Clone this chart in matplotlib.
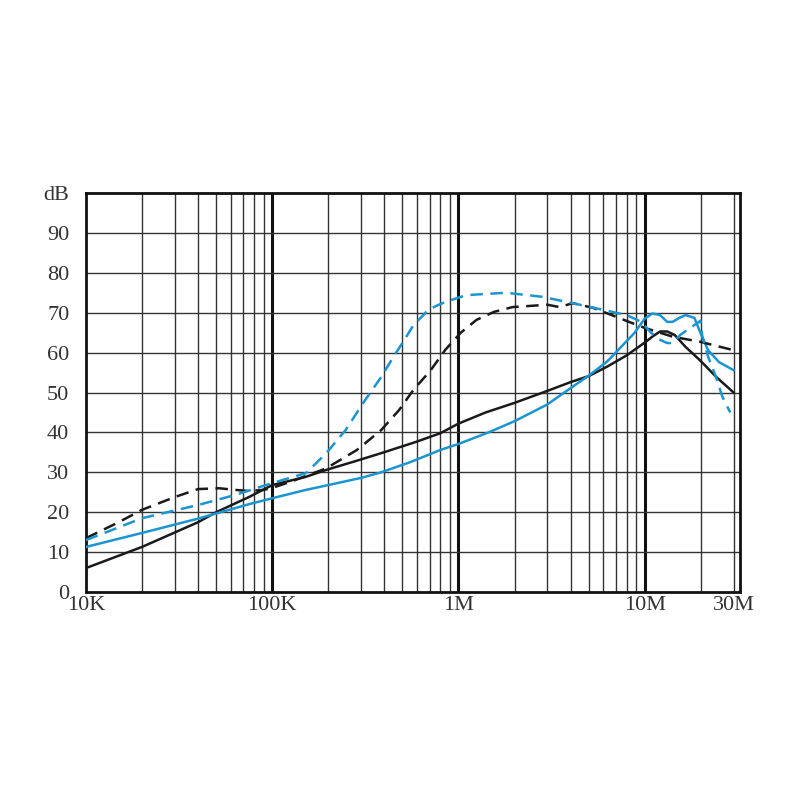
import numpy as np
import matplotlib
matplotlib.use("Agg")
import matplotlib.pyplot as plt

# values (frequency in Hz, level in dB)
black_solid_f = [1e4, 2e4, 4e4, 5e4, 7.5e4, 1e5, 1.5e5, 1.95e5, 2.8e5, 3.85e5, 5.9e5,
                 8e5, 1e6, 1.4e6, 2e6, 3e6, 4e6, 5e6, 6.3e6, 8e6, 1e7, 1.1e7, 1.21e7,
                 1.32e7, 1.45e7, 1.66e7, 1.99e7, 2.41e7, 3e7]
black_solid_db = [6, 11.3, 17.5, 20, 23.8, 26.8, 28.8, 30.6, 32.8, 34.8, 37.6,
                  39.8, 42.2, 45, 47.4, 50.4, 52.6, 54.1, 56.5, 59.3, 62.5, 64, 65.3,
                  65.3, 64.4, 61.4, 58, 54, 50]

blue_solid_f = [1e4, 2e4, 4e4, 7.5e4, 1e5, 1.52e5, 2e5, 3e5, 3.85e5, 5.55e5, 8e5, 1e6,
                1.45e6, 2e6, 3e6, 4e6, 5e6, 6.3e6, 7.5e6, 8.8e6, 1e7, 1.1e7, 1.21e7,
                1.32e7, 1.41e7, 1.55e7, 1.66e7, 1.85e7, 1.99e7, 2.19e7, 2.51e7, 3e7]
blue_solid_db = [11.3, 14.8, 18.4, 22, 23.5, 25.6, 26.8, 28.6, 30, 32.6, 35.6, 37.1,
                 40, 42.8, 47, 51.1, 54.2, 57.8, 61.5, 64.9, 68.5, 69.8, 69.4,
                 67.7, 67.7, 68.8, 69.4, 68.7, 65, 60.6, 57.6, 55.6]

black_dash_f = [1e4, 1.5e4, 2e4, 3e4, 4e4, 5.2e4, 6.3e4, 7.5e4, 9e4, 1e5, 1.25e5,
                1.95e5, 2.85e5, 3.85e5, 4.8e5, 5.72e5, 7.1e5, 8.5e5, 1.03e6, 1.25e6,
                1.55e6, 1.95e6, 3e6, 3.5e6, 4.1e6, 5.3e6, 7e6, 9e6, 1e7, 1.41e7,
                1.99e7, 3e7]
black_dash_db = [13.5, 17.5, 20.6, 23.8, 25.8, 26, 25.6, 25.3, 25.6, 26.1, 27.6,
                 31, 35.6, 40.6, 45.6, 50.6, 55.6, 60.7, 65, 68.2,
                 70.2, 71.4, 72, 71.4, 72.4, 71.2, 69, 67, 66.2, 64,
                 62.7, 60.6]

blue_dash_f = [1e4, 2e4, 4e4, 6.3e4, 1e5, 1.52e5, 1.95e5, 2.48e5, 3.08e5, 3.85e5,
               4.47e5, 5e5, 5.72e5, 6.72e5, 7.5e5, 8.5e5, 1.1e6, 1.8e6, 2.8e6, 4.1e6,
               6e6, 8e6, 9.6e6, 1.08e7, 1.21e7, 1.32e7, 1.41e7, 1.55e7, 1.73e7, 1.96e7,
               1.99e7, 2.04e7, 2.19e7, 2.41e7, 2.61e7, 2.88e7]
blue_dash_db = [13, 18.5, 21.8, 24.3, 27.3, 29.8, 34.8, 40.6, 47.4, 53.9,
                58.9, 62.4, 66.8, 70.2, 71.6, 72.7, 74.4, 75, 74, 72.4,
                70.7, 69.4, 67.7, 65, 63.2, 62.4, 62.4, 64.4, 66, 67.7,
                68, 64, 59, 54, 49, 45]

x_ticks = [1e4, 1e5, 1e6, 1e7, 3e7]
x_labels = ["10K", "100K", "1M", "10M", "30M"]
y_ticks = [0, 10, 20, 30, 40, 50, 60, 70, 80, 90, 100]
y_labels = ["0", "10", "20", "30", "40", "50", "60", "70", "80", "90", "dB"]

BLUE = "#1b95d2"
INK = "#1a1a1a"

plt.rcParams["font.family"] = ["Liberation Serif", "DejaVu Serif"]

fig = plt.figure(figsize=(8, 8), dpi=100)
ax = fig.add_axes([0.1075, 0.26, 0.8175, 0.49875])
ax.set_xscale("log")
ax.set_xlim(1e4, 3.25e7)
ax.set_ylim(0, 100)

# grid: thin lines at 2..9 of each decade, thick ones at decades
for dec in [1e4, 1e5, 1e6]:
    for m in range(2, 10):
        ax.axvline(dec * m, color="#333333", lw=1.0, zorder=1)
for f in [2e7, 3e7]:
    ax.axvline(f, color="#333333", lw=1.0, zorder=1)
for f in [1e5, 1e6, 1e7]:
    ax.axvline(f, color="#111111", lw=2.2, zorder=1)
for y in range(10, 100, 10):
    ax.axhline(y, color="#333333", lw=1.0, zorder=1)

line_kw = dict(lw=1.8, zorder=3, solid_joinstyle="round", dash_joinstyle="round")
ax.plot(black_solid_f, black_solid_db, color=INK, **line_kw)
ax.plot(blue_solid_f, blue_solid_db, color=BLUE, **line_kw)
ax.plot(black_dash_f, black_dash_db, color=INK, ls=(0, (5, 3)), **line_kw)
ax.plot(blue_dash_f, blue_dash_db, color=BLUE, ls=(0, (5, 3)), **line_kw)

for s in ax.spines.values():
    s.set_linewidth(2.0)
    s.set_color("#111111")

ax.set_xticks(x_ticks)
ax.set_xticklabels(x_labels)
ax.xaxis.set_minor_locator(matplotlib.ticker.NullLocator())
ax.set_yticks(y_ticks)
ax.set_yticklabels(y_labels)
ax.tick_params(axis="both", length=0, labelsize=16, labelcolor="#333333")
ax.tick_params(axis="y", pad=12)
ax.tick_params(axis="x", pad=3)

fig.savefig("out.png", dpi=100, facecolor="white")
